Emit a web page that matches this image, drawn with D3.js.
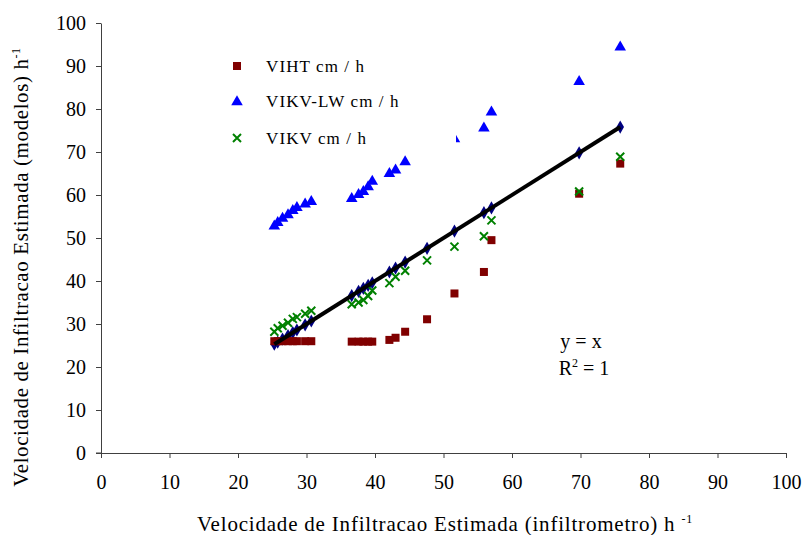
<!DOCTYPE html>
<html><head><meta charset="utf-8">
<script src="https://cdn.jsdelivr.net/npm/d3@7"></script>
<style>body{margin:0;background:#fff}svg{display:block}text{font-family:"Liberation Serif","Times New Roman",serif}</style>
</head><body><svg id="c" width="806" height="535"></svg>
<script>
const xVals = [25.3, 25.8, 26.5, 27.3, 28.0, 28.6, 29.8, 30.7, 36.6, 37.6, 38.3, 39.0, 39.6, 42.1, 43.0, 44.4, 47.6, 51.6, 55.9, 57.0, 69.8, 75.8];
const viht   = [26, 26, 26, 26, 26, 26, 26, 26, 25.9, 25.9, 25.9, 25.9, 25.9, 26.3, 26.8, 28.2, 31.1, 37.1, 42.1, 49.5, 60.3, 67.3];
const vikvlw = [53.0, 53.8, 54.8, 55.6, 56.6, 57.3, 58.1, 58.7, 59.4, 60.3, 61.0, 62.1, 63.4, 65.2, 66.0, 67.9, 71.0, 73.3, 75.8, 79.5, 86.6, 94.6];
const vikv   = [28.2, 29.0, 29.6, 30.3, 31.2, 31.6, 32.4, 33.1, 34.6, 35.0, 35.6, 36.5, 37.8, 39.5, 41.0, 42.4, 44.8, 48.0, 50.4, 54.1, 60.8, 68.9];
const xTicks = [0,10,20,30,40,50,60,70,80,90,100];
const yTicks = [0,10,20,30,40,50,60,70,80,90,100];
const legendLabels = ["VIHT cm / h", "VIKV-LW cm / h", "VIKV cm / h"];

const svg = d3.select("#c");
const x = d3.scaleLinear().domain([0,100]).range([101,786]);
const y = d3.scaleLinear().domain([0,100]).range([453,23]);

// axes
const xAxis = svg.append("g").attr("transform","translate(0,453)")
  .call(d3.axisBottom(x).tickValues(xTicks).tickSize(5).tickPadding(14).tickSizeOuter(0));
const yAxis = svg.append("g").attr("transform","translate(101,0)")
  .call(d3.axisLeft(y).tickValues(yTicks).tickSize(5).tickPadding(10).tickSizeOuter(0));
[xAxis,yAxis].forEach(a=>{
  a.select(".domain").attr("stroke","#404040").attr("stroke-width",1);
  a.selectAll(".tick line").attr("stroke","#404040");
  a.selectAll(".tick text").attr("font-family","Liberation Serif").attr("font-size",20).attr("fill","#000");
});
xAxis.selectAll(".tick text").attr("dy","0.85em");
svg.append("line").attr("x1",96).attr("x2",101).attr("y1",453).attr("y2",453).attr("stroke","#404040");

const idx = d3.range(xVals.length);

// y=x series (diamonds)
svg.append("g").selectAll("path").data(idx).join("path")
  .attr("d", d3.symbol(d3.symbolDiamond, 50))
  .attr("transform", i=>`translate(${x(xVals[i])},${y(xVals[i])})`)
  .attr("fill","#000080");

// VIHT squares
svg.append("g").selectAll("rect").data(idx).join("rect")
  .attr("x", i=>x(xVals[i])-4).attr("y", i=>y(viht[i])-4)
  .attr("width",8).attr("height",8).attr("fill","#800000");

// VIKV-LW triangles
svg.append("g").selectAll("path").data(idx).join("path")
  .attr("d", d3.symbol(d3.symbolTriangle, 58))
  .attr("transform", i=>`translate(${x(xVals[i])},${y(vikvlw[i])+1})`)
  .attr("fill","#0000ff");

// VIKV crosses
const cross = "M-4,-4L4,4M-4,4L4,-4";
svg.append("g").selectAll("path").data(idx).join("path")
  .attr("d", cross)
  .attr("transform", i=>`translate(${x(xVals[i])},${y(vikv[i])})`)
  .attr("stroke","#008000").attr("stroke-width",2).attr("fill","none");

// trend line y = x
const ext = d3.extent(xVals);
svg.append("line")
  .attr("x1",x(ext[0])).attr("y1",y(ext[0]))
  .attr("x2",x(ext[1])).attr("y2",y(ext[1]))
  .attr("stroke","#000").attr("stroke-width",4);

// legend (white box)
const lg = svg.append("g");
lg.append("rect").attr("x",215).attr("y",42).attr("width",241).attr("height",110).attr("fill","#fff");
const ly = [66,101,138];
lg.append("rect").attr("x",233).attr("y",ly[0]-4).attr("width",8).attr("height",8).attr("fill","#800000");
lg.append("path").attr("d",d3.symbol(d3.symbolTriangle,58)).attr("transform",`translate(237,${ly[1]+1})`).attr("fill","#0000ff");
lg.append("path").attr("d",cross).attr("transform",`translate(237,${ly[2]})`).attr("stroke","#008000").attr("stroke-width",2).attr("fill","none");
legendLabels.forEach((t,i)=>{
  lg.append("text").attr("x",266).attr("y",ly[i]+6).attr("font-size",17).attr("letter-spacing","1.1px").text(t);
});

// equation
svg.append("text").attr("x",581).attr("y",348).attr("text-anchor","middle").attr("font-size",20).text("y = x");
const r2 = svg.append("text").attr("x",584).attr("y",375).attr("text-anchor","middle").attr("font-size",20);
r2.append("tspan").text("R");
r2.append("tspan").attr("dy",-8).attr("font-size",12).text("2");
r2.append("tspan").attr("dy",8).text(" = 1");

// axis titles
const xt = svg.append("text").attr("x",445).attr("y",531).attr("text-anchor","middle").attr("font-size",21).attr("letter-spacing","0.8px");
xt.append("tspan").text("Velocidade de Infiltracao Estimada (infiltrometro) h ");
xt.append("tspan").attr("dy",-8).attr("font-size",12).text("-1");

const yt = svg.append("text").attr("transform","translate(28,267) rotate(-90)").attr("text-anchor","middle").attr("font-size",21).attr("letter-spacing","0.6px");
yt.append("tspan").text("Velocidade de Infiltracao Estimada (modelos) h");
yt.append("tspan").attr("dy",-8).attr("font-size",12).text("-1");
</script></body></html>
